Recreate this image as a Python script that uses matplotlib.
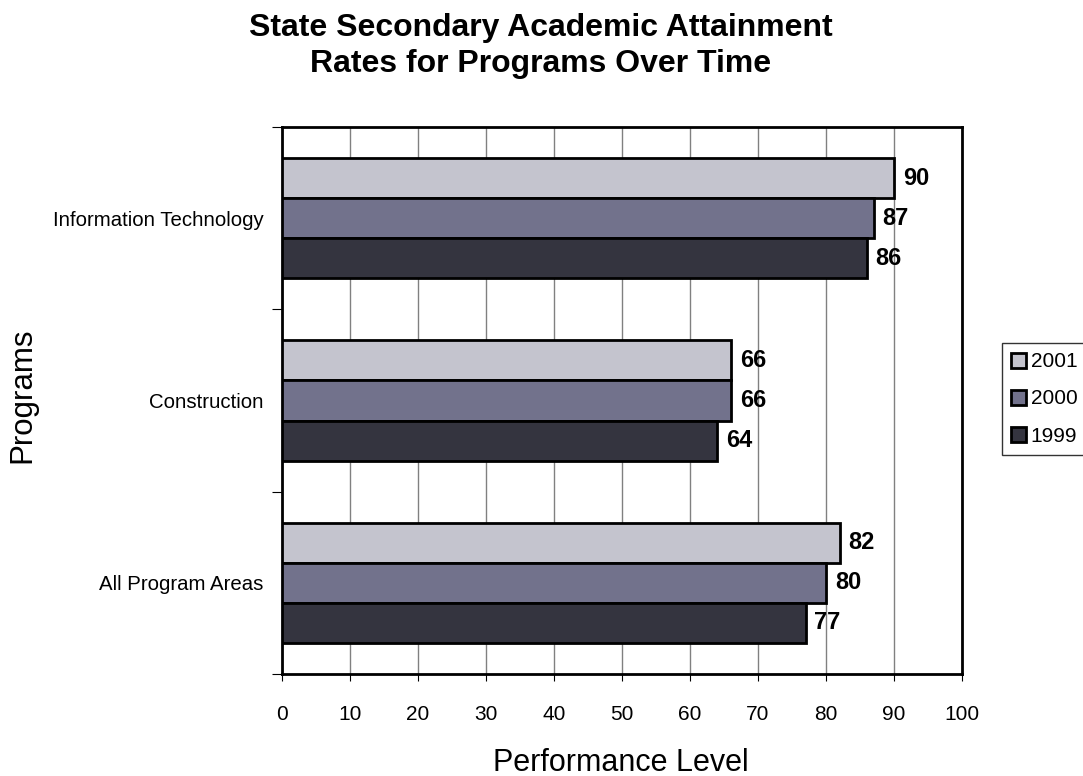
import numpy as np
import matplotlib.pyplot as plt

programs = ['All Program Areas', 'Construction', 'Information Technology']
years = ['2001', '2000', '1999']
v2001 = [82, 66, 90]
v2000 = [80, 66, 87]
v1999 = [77, 64, 86]
colors = ['#C4C4CE', '#72728C', '#34343F']

plt.rcParams['font.family'] = 'Liberation Sans'
fig = plt.figure(figsize=(10.83, 7.76), dpi=100)
ax = fig.add_axes([0.2604, 0.1314, 0.6279, 0.7049])

y = np.arange(len(programs))
h = 0.22
series = [v2001, v2000, v1999]
offsets = [h, 0, -h]
for vals, off, c, lab in zip(series, offsets, colors, years):
    ax.barh(y + off, vals, height=h, color=c, edgecolor='black', linewidth=2, label=lab, zorder=3)
    for yi, v in zip(y, vals):
        ax.text(v + 1.3, yi + off, str(v), va='center', ha='left', fontsize=17,
                fontweight='bold', zorder=4)

ax.set_xlim(0, 100)
ax.set_ylim(-0.5, 2.5)
ax.set_xticks(np.arange(0, 101, 10))
ax.set_xticklabels([str(t) for t in range(0, 101, 10)], fontsize=15)
ax.xaxis.grid(True, color='#808080', linewidth=1, zorder=0)
ax.set_yticks([-0.5, 0.5, 1.5, 2.5])
ax.set_yticklabels([])
ax.set_yticks(y, minor=True)
ax.set_yticklabels(programs, minor=True, fontsize=14.7)
ax.tick_params(axis='y', which='minor', length=0, pad=13.5)
ax.tick_params(axis='y', which='major', length=7, direction='out')
ax.tick_params(axis='x', length=5, direction='out', pad=17)
for s in ax.spines.values():
    s.set_linewidth(2)

# 轴标题和总标题
fig.text(0.573, 1 - 771 / 776, 'Performance Level', fontsize=22, ha='center', va='baseline')
fig.text(0.0203, 1 - 395 / 776, 'Programs', rotation=90, fontsize=22.5, ha='center', va='center')
fig.text(0.499, 1 - 46 / 776, 'State Secondary Academic Attainment\nRates for Programs Over Time',
         fontsize=23, fontweight='bold', ha='center', va='center', linespacing=1.3)

leg = ax.legend(loc='upper left', bbox_to_anchor=(1002 / 1083, 1 - 343 / 776),
                bbox_transform=fig.transFigure, borderaxespad=0, frameon=True, fancybox=False,
                edgecolor='black', prop={'size': 15},
                handlelength=0.72, handleheight=0.72, handletextpad=0.2, labelspacing=0.87,
                borderpad=0.45)
leg.get_frame().set_linewidth(1)

plt.savefig('out.png', dpi=100)
